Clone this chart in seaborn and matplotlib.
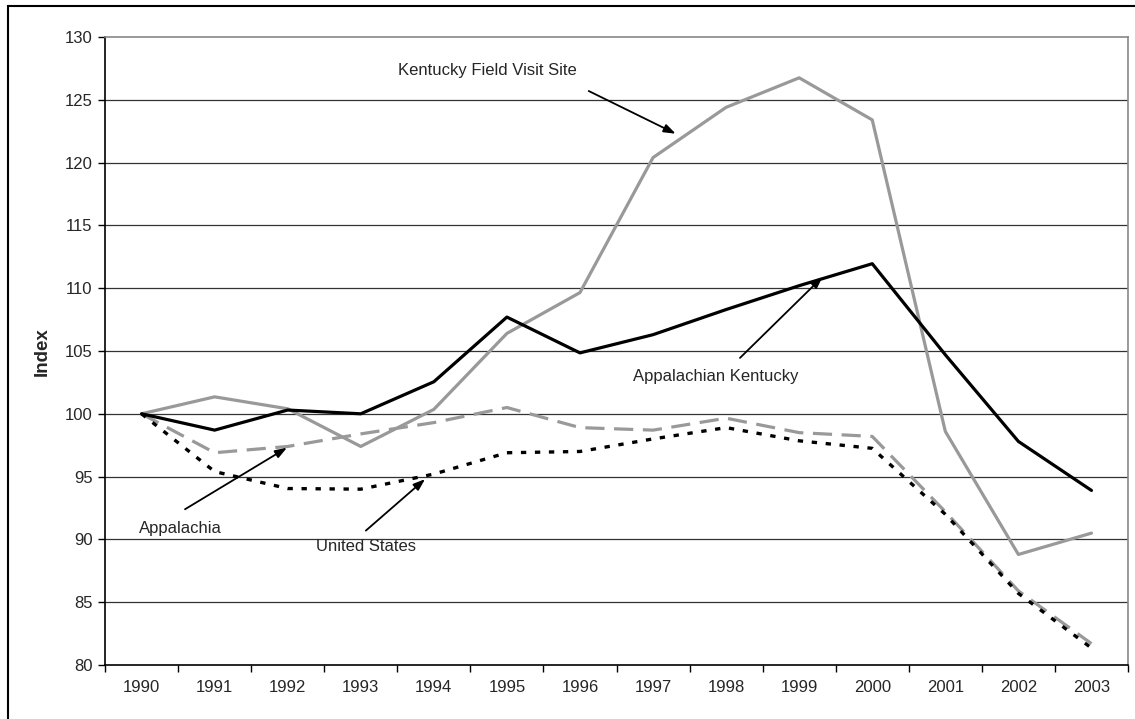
import numpy as np
import pandas as pd
import matplotlib
matplotlib.use("Agg")
import matplotlib.pyplot as plt
from matplotlib.patches import Rectangle
import seaborn as sns

# ---- data ----
years = [1990, 1991, 1992, 1993, 1994, 1995, 1996, 1997, 1998, 1999, 2000, 2001, 2002, 2003]
kentucky_site = [100, 101.35, 100.4, 97.4, 100.35, 106.4, 109.65, 120.4, 124.4, 126.75, 123.4, 98.6, 88.8, 90.5]
appalachian_kentucky = [100, 98.7, 100.3, 100.0, 102.55, 107.7, 104.85, 106.3, 108.3, 110.2, 111.95, 104.7, 97.8, 93.9]
appalachia = [100, 96.9, 97.4, 98.4, 99.3, 100.5, 98.9, 98.7, 99.65, 98.5, 98.2, 92.2, 85.9, 81.7]
united_states = [100, 95.4, 94.05, 94.0, 95.2, 96.9, 97.0, 98.0, 98.9, 97.85, 97.25, 92.0, 85.7, 81.35]
y_ticks = [80, 85, 90, 95, 100, 105, 110, 115, 120, 125, 130]

sns.set_style("white")
plt.rcParams["font.family"] = ["Liberation Sans", "DejaVu Sans"]

fig = plt.figure(figsize=(11.35, 7.19), dpi=100)
ax = fig.add_axes([105 / 1135, 1 - 665 / 719, 1023 / 1135, 628 / 719])

idx = np.arange(len(years))
GRAY = "#999999"

# gridlines
for v in y_ticks[1:-1]:
    ax.axhline(v, color="#333333", lw=0.9, zorder=0)

sns.lineplot(x=idx, y=kentucky_site, ax=ax, color=GRAY, lw=2.3, zorder=3)
sns.lineplot(x=idx, y=appalachia, ax=ax, color=GRAY, lw=2.3, zorder=3,
             dashes=False)
ax.lines[-1].set_dashes([6, 3])
sns.lineplot(x=idx, y=united_states, ax=ax, color="black", lw=2.4, zorder=4)
ax.lines[-1].set_dashes([1.6, 2.6])
sns.lineplot(x=idx, y=appalachian_kentucky, ax=ax, color="black", lw=2.3, zorder=5)

ax.set_xlim(-0.5, len(years) - 0.5)
ax.set_ylim(80, 130)
ax.set_yticks(y_ticks)
ax.set_yticklabels([str(v) for v in y_ticks], fontsize=12)
ax.tick_params(axis="y", which="major", length=5, width=1, pad=4, color="black", left=True)

ax.set_xticks(np.arange(-0.5, len(years), 1.0))
ax.set_xticklabels([])
ax.set_xticks(idx, minor=True)
ax.set_xticklabels([str(y) for y in years], minor=True, fontsize=12)
ax.tick_params(axis="x", which="major", length=5, width=1, color="black", bottom=True)
ax.tick_params(axis="x", which="minor", length=0, pad=11)

ax.set_xlabel("")
ax.set_ylabel("")
for s in ["left", "bottom"]:
    ax.spines[s].set_color("black")
    ax.spines[s].set_linewidth(1.2)
for s in ["top", "right"]:
    ax.spines[s].set_color("#888888")
    ax.spines[s].set_linewidth(1.2)

fig.text(42 / 1135, 1 - 352 / 719, "Index", rotation=90, ha="center", va="center",
         fontsize=13.5, fontweight="bold")

arrow = dict(arrowstyle="-|>,head_length=0.7,head_width=0.25", color="black", lw=1.3,
             shrinkA=0, shrinkB=0)

ax.text(4.73, 127.3, "Kentucky Field Visit Site", fontsize=12, ha="center", va="center")
ax.annotate("", xy=(7.31, 122.3), xytext=(6.12, 125.7), arrowprops=arrow)

ax.text(7.86, 103.0, "Appalachian Kentucky", fontsize=12, ha="center", va="center")
ax.annotate("", xy=(9.32, 110.9), xytext=(8.19, 104.45), arrowprops=arrow)

ax.text(0.53, 90.9, "Appalachia", fontsize=12, ha="center", va="center")
ax.annotate("", xy=(1.99, 97.3), xytext=(0.595, 92.4), arrowprops=arrow)

ax.text(3.07, 89.4, "United States", fontsize=12, ha="center", va="center")
ax.annotate("", xy=(3.88, 94.8), xytext=(3.07, 90.7), arrowprops=arrow)

fig.patches.append(Rectangle((8 / 1135, -0.05), 1.2, 1.05 - 6 / 719 + 0.0,
                             transform=fig.transFigure, fill=False,
                             edgecolor="black", lw=1.5, zorder=10))

fig.savefig("out.png", dpi=100)
